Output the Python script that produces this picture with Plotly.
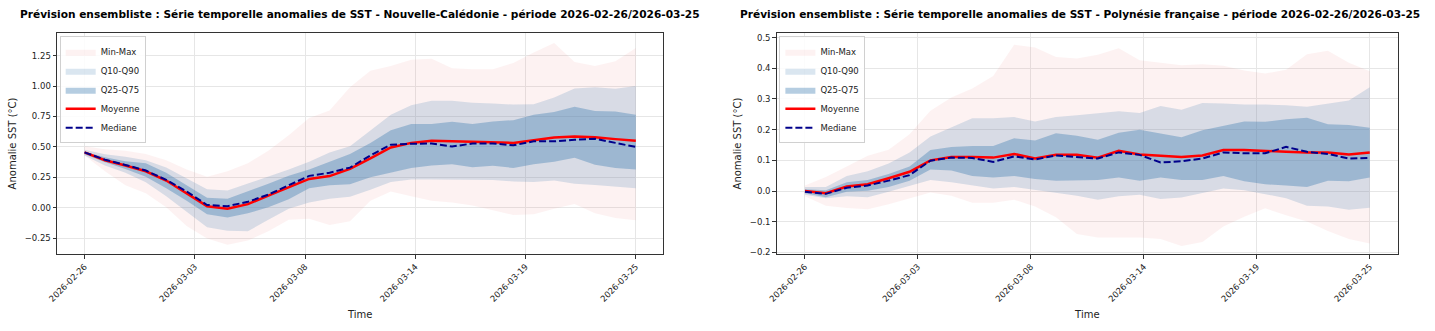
import numpy as np
import pandas as pd
import plotly.graph_objects as go

# ---------------- data ----------------
start_date = "2026-02-26"
end_date = "2026-03-25"
dates = pd.date_range(start_date, end_date, freq="D")
tick_labels = ["2026-02-26", "2026-03-03", "2026-03-08", "2026-03-14", "2026-03-19", "2026-03-25"]

titles = [
    "Prévision ensembliste : Série temporelle anomalies de SST - Nouvelle-Calédonie - période 2026-02-26/2026-03-25",
    "Prévision ensembliste : Série temporelle anomalies de SST - Polynésie française - période 2026-02-26/2026-03-25",
]

# Nouvelle-Calédonie
nc_min = [0.43, 0.30, 0.185, 0.12, 0.005, -0.149, -0.252, -0.303, -0.27, -0.193, -0.098, -0.09, -0.141, -0.11,
          0.057, 0.134, 0.095, 0.057, 0.044, 0.018, -0.02, -0.059, -0.054, -0.008, 0.031, -0.046, -0.085, -0.103]
nc_max = [0.506, 0.48, 0.468, 0.442, 0.39, 0.314, 0.254, 0.30, 0.365, 0.468, 0.596, 0.738, 0.80, 0.99,
          1.126, 1.165, 1.216, 1.224, 1.147, 1.139, 1.139, 1.19, 1.276, 1.353, 1.198, 1.165, 1.204, 1.312]
nc_q10 = [0.43, 0.347, 0.288, 0.21, 0.095, -0.033, -0.16, -0.188, -0.193, -0.098, -0.008, 0.044, 0.075, 0.09,
          0.147, 0.211, 0.232, 0.232, 0.229, 0.229, 0.229, 0.216, 0.211, 0.224, 0.198, 0.186, 0.173, 0.16]
nc_q90 = [0.476, 0.44, 0.42, 0.39, 0.33, 0.244, 0.152, 0.141, 0.198, 0.254, 0.314, 0.378, 0.455, 0.506,
          0.637, 0.765, 0.843, 0.88, 0.88, 0.863, 0.856, 0.848, 0.85, 0.907, 0.98, 0.99, 0.977, 1.0]
nc_q25 = [0.44, 0.373, 0.319, 0.254, 0.16, 0.057, -0.054, -0.08, -0.046, 0.005, 0.07, 0.16, 0.185, 0.193,
          0.25, 0.289, 0.327, 0.348, 0.358, 0.332, 0.345, 0.327, 0.358, 0.379, 0.41, 0.353, 0.327, 0.314]
nc_q75 = [0.46, 0.416, 0.383, 0.365, 0.288, 0.185, 0.082, 0.075, 0.134, 0.198, 0.262, 0.314, 0.378, 0.442,
          0.533, 0.637, 0.688, 0.688, 0.706, 0.688, 0.709, 0.72, 0.765, 0.786, 0.83, 0.796, 0.791, 0.765]
nc_mean = [0.455, 0.39, 0.347, 0.30, 0.224, 0.12, 0.013, -0.008, 0.03, 0.10, 0.17, 0.237, 0.26, 0.32,
           0.405, 0.495, 0.533, 0.55, 0.546, 0.541, 0.539, 0.533, 0.554, 0.577, 0.585, 0.58, 0.564, 0.55]
nc_median = [0.455, 0.395, 0.352, 0.306, 0.229, 0.134, 0.023, 0.013, 0.049, 0.108, 0.185, 0.262, 0.288, 0.33,
             0.43, 0.518, 0.526, 0.528, 0.503, 0.528, 0.528, 0.513, 0.546, 0.546, 0.559, 0.567, 0.533, 0.50]

# Polynésie française
pf_min = [-0.017, -0.048, -0.055, -0.059, -0.043, -0.023, -0.005, -0.015, -0.038, -0.038, -0.028, -0.05, -0.085, -0.14,
          -0.151, -0.151, -0.151, -0.156, -0.179, -0.166, -0.115, -0.084, -0.056, -0.079, -0.099, -0.13, -0.156, -0.171]
pf_max = [0.018, 0.046, 0.08, 0.115, 0.135, 0.185, 0.262, 0.305, 0.334, 0.375, 0.477, 0.468, 0.437, 0.432,
          0.444, 0.465, 0.426, 0.418, 0.41, 0.413, 0.408, 0.393, 0.383, 0.395, 0.446, 0.457, 0.418, 0.39]
pf_q10 = [-0.012, -0.023, -0.017, -0.02, -0.002, 0.018, 0.036, 0.029, 0.018, 0.008, 0.013, 0.003, -0.007, -0.015,
          -0.028, -0.017, -0.012, -0.026, -0.021, -0.007, 0.008, 0.003, -0.01, -0.023, -0.048, -0.05, -0.061, -0.054]
pf_q90 = [0.013, 0.013, 0.049, 0.065, 0.09, 0.126, 0.178, 0.208, 0.237, 0.237, 0.241, 0.227, 0.241, 0.247,
          0.254, 0.26, 0.254, 0.277, 0.265, 0.287, 0.285, 0.282, 0.282, 0.28, 0.275, 0.285, 0.295, 0.338]
pf_q25 = [-0.007, -0.02, -0.002, 0.001, 0.013, 0.034, 0.07, 0.067, 0.049, 0.044, 0.049, 0.039, 0.034, 0.034,
          0.036, 0.044, 0.034, 0.044, 0.036, 0.036, 0.049, 0.032, 0.022, 0.018, 0.013, 0.034, 0.032, 0.044]
pf_q75 = [0.006, 0.003, 0.029, 0.036, 0.056, 0.08, 0.134, 0.144, 0.147, 0.147, 0.172, 0.165, 0.188, 0.18,
          0.167, 0.19, 0.20, 0.188, 0.175, 0.198, 0.213, 0.227, 0.226, 0.234, 0.239, 0.218, 0.215, 0.206]
pf_mean = [0.0, -0.007, 0.015, 0.022, 0.042, 0.063, 0.10, 0.111, 0.111, 0.109, 0.121, 0.106, 0.118, 0.118,
           0.109, 0.131, 0.119, 0.116, 0.111, 0.116, 0.134, 0.134, 0.13, 0.128, 0.126, 0.126, 0.119, 0.126]
pf_median = [-0.002, -0.009, 0.011, 0.018, 0.034, 0.052, 0.099, 0.109, 0.108, 0.095, 0.113, 0.103, 0.116, 0.111,
             0.106, 0.126, 0.118, 0.093, 0.097, 0.106, 0.126, 0.123, 0.123, 0.144, 0.128, 0.121, 0.106, 0.108]

# ---------------- styling ----------------
FONT = "DejaVu Sans"
C_MINMAX = "rgba(240,128,128,0.1)"
C_Q1090 = "rgba(70,130,180,0.2)"
C_Q2575 = "rgba(70,130,180,0.4)"
C_MEAN = "#ff0000"
C_MED = "#00008b"

W, H = 1435, 331
ML, MR, MT, MB = 49, 37, 33, 63
PW = W - ML - MR
dom1 = [0, (659 - ML) / PW]
dom2 = [(773 - ML) / PW, 1]
title_x = [(354 - ML) / PW, (1078 - ML) / PW]

fig = go.Figure()

panels = [
    dict(xa="x", ya="y", leg="legend",
         lo=nc_min, hi=nc_max, q10=nc_q10, q90=nc_q90, q25=nc_q25, q75=nc_q75, mean=nc_mean, med=nc_median),
    dict(xa="x2", ya="y2", leg="legend2",
         lo=pf_min, hi=pf_max, q10=pf_q10, q90=pf_q90, q25=pf_q25, q75=pf_q75, mean=pf_mean, med=pf_median),
]

for p in panels:
    common = dict(x=dates, xaxis=p["xa"], yaxis=p["ya"], legend=p["leg"], hoverinfo="skip")
    for lo, hi, col, name in [(p["lo"], p["hi"], C_MINMAX, "Min-Max"),
                              (p["q10"], p["q90"], C_Q1090, "Q10-Q90"),
                              (p["q25"], p["q75"], C_Q2575, "Q25-Q75")]:
        fig.add_trace(go.Scatter(y=lo, mode="lines", line=dict(width=0), showlegend=False, **common))
        fig.add_trace(go.Scatter(y=hi, mode="lines", line=dict(width=0), fill="tonexty",
                                 fillcolor=col, name=name, showlegend=True, **common))
    fig.add_trace(go.Scatter(y=p["mean"], mode="lines", line=dict(color=C_MEAN, width=2.5),
                             name="Moyenne", **common))
    fig.add_trace(go.Scatter(y=p["med"], mode="lines", line=dict(color=C_MED, width=2, dash="7px,3px"),
                             name="Mediane", **common))

tickvals = dates[0] + pd.to_timedelta(np.linspace(0, len(dates) - 1, len(tick_labels)), unit="D")
pad = pd.Timedelta(days=0.05 * (len(dates) - 1))
xrange = [dates[0] - pad, dates[-1] + pad]

axis_common = dict(showline=True, mirror=True, linecolor="#333333", linewidth=1,
                   ticks="outside", ticklen=3.5, tickcolor="#333333",
                   showgrid=True, gridcolor="#e6e6e6", gridwidth=1, zeroline=False,
                   tickfont=dict(family=FONT, size=8.5, color="#222"))

xcommon = dict(axis_common, tickvals=tickvals, ticktext=tick_labels, tickangle=-45, range=xrange,
               title=dict(text="Time", font=dict(family=FONT, size=10, color="#222"), standoff=8))
ytitle = dict(text="Anomalie SST (°C)", font=dict(family=FONT, size=10, color="#222"), standoff=6)

legend_common = dict(xanchor="left", yanchor="top", bgcolor="rgba(255,255,255,0.85)",
                     bordercolor="#d0d0d0", borderwidth=1, font=dict(family=FONT, size=8.5, color="#222"),
                     tracegroupgap=0, itemwidth=30, traceorder="normal")

fig.update_layout(
    width=W, height=H,
    margin=dict(l=ML, r=MR, t=MT, b=MB),
    paper_bgcolor="white", plot_bgcolor="white",
    xaxis=dict(xcommon, domain=dom1, anchor="y"),
    yaxis=dict(axis_common, domain=[0, 1], anchor="x", range=[-0.38, 1.436], dtick=0.25,
               tickformat=".2f", title=ytitle),
    xaxis2=dict(xcommon, domain=dom2, anchor="y2"),
    yaxis2=dict(axis_common, domain=[0, 1], anchor="x2", range=[-0.205, 0.515], dtick=0.1,
                tickformat=".1f", title=ytitle),
    legend=dict(legend_common, x=0.002, y=0.985),
    legend2=dict(legend_common, x=dom2[0] + 0.002, y=0.985),
    showlegend=True,
)

for tx, t in zip(title_x, titles):
    fig.add_annotation(text="<b>" + t + "</b>", xref="paper", yref="paper",
                       x=tx, y=1 + (MT - 13) / (H - MT - MB),
                       xanchor="center", yanchor="middle", showarrow=False,
                       font=dict(family=FONT, size=10.6, color="#000"))

fig.write_html("out.html")
